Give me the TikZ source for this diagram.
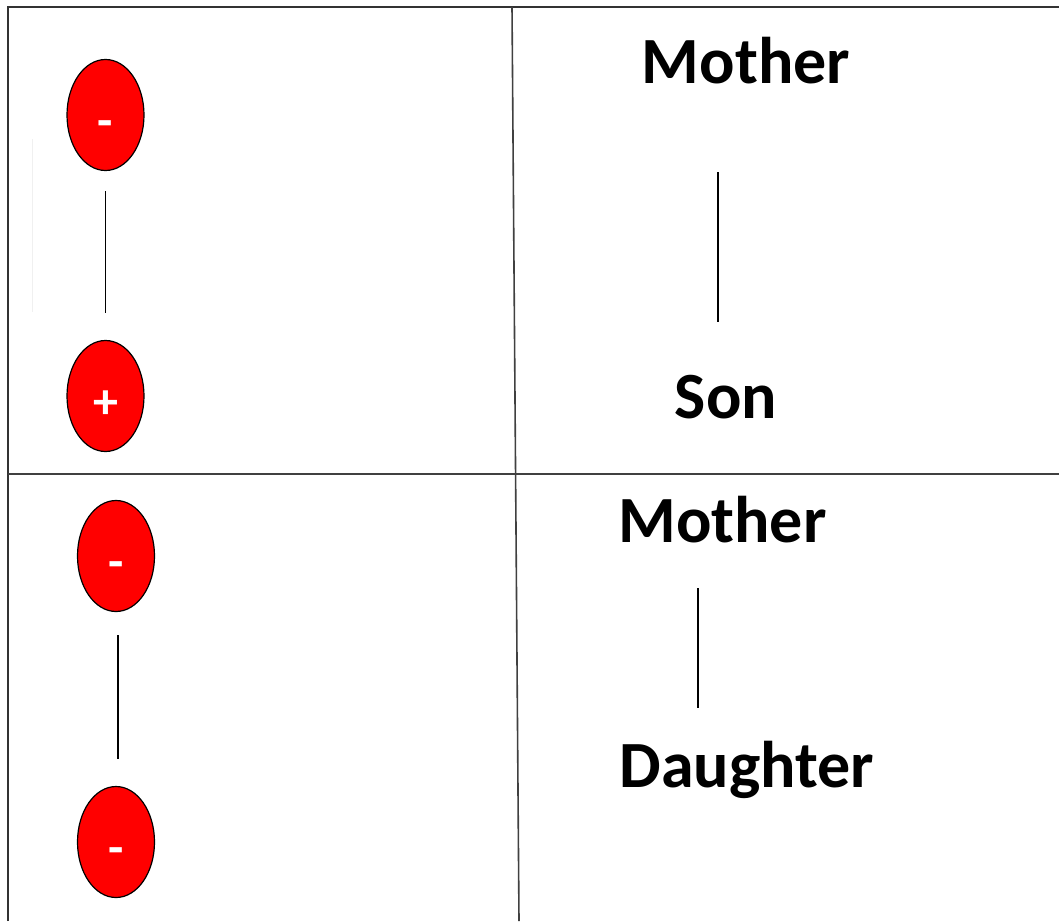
\documentclass[tikz,border=0pt]{standalone}
\usepackage{fontspec}
\setmainfont{Carlito}
\usetikzlibrary{shapes.geometric}
\begin{document}
\begin{tikzpicture}[x=1pt,y=-1pt,
  frame/.style={draw=black!80,line width=2pt},
  divider/.style={draw=black!75,line width=1.6pt},
  link/.style={draw=black,line width=1.3pt},
  charge/.style={ellipse,draw=black,line width=1.2pt,fill=red,
    minimum width=77pt,minimum height=111pt,inner sep=0pt,
    text height=44pt,text depth=0pt,
    text=white,font=\bfseries\fontsize{50}{50}\selectfont},
  label/.style={anchor=base,inner sep=0pt,font=\bfseries\fontsize{66}{66}\selectfont}]
\useasboundingbox (0,0) rectangle (1059,921);
\fill[white] (0,0) rectangle (1059,921);
% table frame and dividers
\draw[frame] (8,921) -- (8,7) -- (1059,7);
\draw[divider] (8,474) -- (1059,474);
\draw[divider] (512,7) -- (519,921);
\draw[black!6,line width=1pt] (32,139) -- (32,312);
% charges
\node[charge] (c1) at (105.5,115) {-};
\node[charge] (c2) at (105.5,396) {+};
\node[charge] (c3) at (116,556) {-};
\node[charge] (c4) at (116,842) {-};
\draw[link,shorten <=20pt,shorten >=27pt] (c1) -- (c2);
\path (c3.south) ++(2,0) coordinate (c3s);
\path (c4.north) ++(2,0) coordinate (c4n);
\draw[link,shorten <=23pt,shorten >=27pt] (c3s) -- (c4n);
% family labels
\node[label] (m1) at (746,83) {Mother};
\node[label] (s1) at (726,418) {Son};
\node[label] (m2) at (722.5,542) {Mother};
\node[label] (d2) at (747,787) {Daughter};
\coordinate (a1) at (718,172);
\coordinate (b1) at (718,322);
\coordinate (a2) at (698,588);
\coordinate (b2) at (698,708);
\draw[link] (a1) -- (b1);
\draw[link] (a2) -- (b2);
\end{tikzpicture}
\end{document}
